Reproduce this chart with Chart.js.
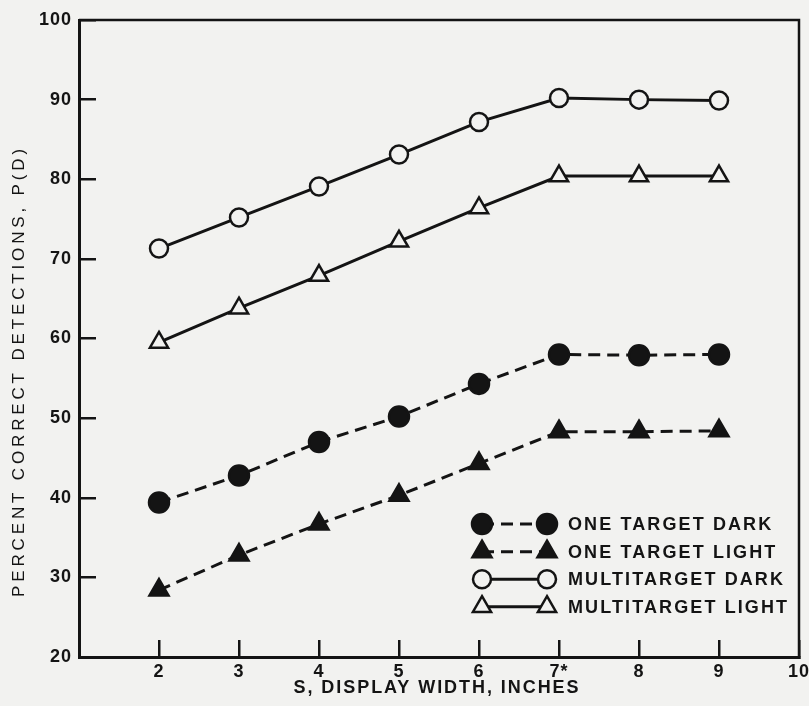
<!DOCTYPE html>
<html>
<head>
<meta charset="utf-8">
<title>Percent correct detections vs display width</title>
<script src="https://cdn.jsdelivr.net/npm/chart.js@4.4.1/dist/chart.umd.min.js"></script>
<style>
  html, body { margin: 0; padding: 0; background: #f2f2f0; }
  #wrap { width: 809px; height: 706px; }
</style>
</head>
<body>
<div id="wrap"><canvas id="chart" width="809" height="706"></canvas></div>
<script>
// values
const widths = [2, 3, 4, 5, 6, 7, 8, 9];
const oneTargetDark = [39.4, 42.8, 47.0, 50.2, 54.3, 58.0, 57.9, 58.0];
const oneTargetLight = [28.4, 32.8, 36.7, 40.3, 44.3, 48.3, 48.3, 48.4];
const multiTargetDark = [71.3, 75.2, 79.1, 83.1, 87.2, 90.2, 90.0, 89.9];
const multiTargetLight = [59.5, 63.8, 67.9, 72.2, 76.4, 80.4, 80.4, 80.4];

const seriesNames = ['ONE TARGET DARK', 'ONE TARGET LIGHT', 'MULTITARGET DARK', 'MULTITARGET LIGHT'];
const xTickLabels = ['', '2', '3', '4', '5', '6', '7*', '8', '9', '10'];
const yTickValues = [20, 30, 40, 50, 60, 70, 80, 90, 100];
const xTitle = 'S, DISPLAY WIDTH, INCHES';
const yTitle = 'PERCENT CORRECT DETECTIONS, P(D)';

const INK = '#141414';
const PAPER = '#f2f2f0';
const FONT = "'Liberation Sans', Arial, sans-serif";

function points(ys) {
  return widths.map((x, i) => ({ x, y: ys[i] }));
}

function series(label, ys, dashed, style, radius, filled) {
  return {
    label,
    data: points(ys),
    borderColor: INK,
    borderWidth: 3,
    borderDash: dashed ? [12, 7] : [],
    pointStyle: style,
    pointRadius: radius,
    pointHoverRadius: radius,
    pointBorderWidth: 2.5,
    pointBorderColor: INK,
    pointBackgroundColor: filled ? INK : PAPER,
    tension: 0,
    fill: false
  };
}

function fitSpacing(ctx, text, target) {
  ctx.letterSpacing = '0px';
  const w = ctx.measureText(text).width;
  return Math.max(0, (target - w) / (text.length - 1));
}

function spacedText(ctx, text, x, y, target) {
  const gap = fitSpacing(ctx, text, target);
  ctx.letterSpacing = gap.toFixed(2) + 'px';
  ctx.fillText(text, x, y);
}

const paperPlugin = {
  id: 'paper',
  beforeDraw(chart) {
    chart.ctx.letterSpacing = '1px';
  },
  beforeDatasetsDraw(chart) {
    const { ctx, chartArea: a } = chart;
    ctx.save();
    ctx.strokeStyle = INK;
    ctx.lineWidth = 2.5;
    ctx.beginPath();
    ctx.moveTo(a.left, a.top);
    ctx.lineTo(a.right, a.top);
    ctx.lineTo(a.right, a.bottom);
    ctx.stroke();
    ctx.restore();
  },
  afterDraw(chart) {
    const { ctx, chartArea: a } = chart;
    ctx.save();
    ctx.fillStyle = INK;
    ctx.textAlign = 'center';
    ctx.textBaseline = 'middle';

    // axis titles
    ctx.font = 'bold 18px ' + FONT;
    spacedText(ctx, xTitle, 437, 688, 285);
    ctx.save();
    ctx.translate(19, 371);
    ctx.rotate(-Math.PI / 2);
    ctx.font = '17px ' + FONT;
    spacedText(ctx, yTitle, 0, 0, 448);
    ctx.restore();

    // legend: line sample with a marker at each end
    const x0 = a.left + 403, x1 = a.left + 468, tx = a.left + 489;
    const rowY = [a.bottom - 133, a.bottom - 105.3, a.bottom - 77.7, a.bottom - 50.3];
    ctx.font = 'bold 18px ' + FONT;
    const gap = fitSpacing(ctx, seriesNames[3], 219);
    chart.data.datasets.forEach((ds, i) => {
      const y = rowY[i];
      ctx.strokeStyle = INK;
      ctx.lineWidth = ds.borderWidth;
      ctx.setLineDash(ds.borderDash);
      ctx.beginPath();
      ctx.moveTo(x0, y);
      ctx.lineTo(x1, y);
      ctx.stroke();
      ctx.setLineDash([]);
      ctx.fillStyle = ds.pointBackgroundColor;
      ctx.lineWidth = ds.pointBorderWidth;
      [x0, x1].forEach(px => {
        Chart.helpers.drawPoint(ctx, {
          pointStyle: ds.pointStyle,
          radius: ds.pointRadius,
          rotation: 0,
          borderWidth: ds.pointBorderWidth
        }, px, y);
      });
      ctx.fillStyle = INK;
      ctx.textAlign = 'left';
      ctx.letterSpacing = gap.toFixed(2) + 'px';
      ctx.fillText(ds.label, tx, y + 1);
    });
    ctx.restore();
  }
};

new Chart(document.getElementById('chart'), {
  type: 'line',
  data: {
    datasets: [
      series(seriesNames[0], oneTargetDark, true, 'circle', 10, true),
      series(seriesNames[1], oneTargetLight, true, 'triangle', 11, true),
      series(seriesNames[2], multiTargetDark, false, 'circle', 9, false),
      series(seriesNames[3], multiTargetLight, false, 'triangle', 10.5, false)
    ]
  },
  options: {
    responsive: false,
    animation: false,
    devicePixelRatio: 1,
    layout: { autoPadding: false, padding: { top: 20, right: 10, bottom: 0, left: 0 } },
    plugins: {
      legend: { display: false },
      tooltip: { enabled: false }
    },
    scales: {
      x: {
        type: 'linear',
        min: 1,
        max: 10,
        afterBuildTicks: s => { s.ticks = xTickLabels.map((_, i) => ({ value: i + 1 })); },
        afterFit: s => { s.height = 49; s.paddingLeft = 0; s.paddingRight = 0; },
        ticks: {
          color: INK,
          font: { family: FONT, size: 18, weight: 'bold' },
          padding: 21,
          maxRotation: 0,
          autoSkip: false,
          callback: v => xTickLabels[v - 1]
        },
        grid: { drawOnChartArea: false, drawTicks: true, tickLength: -17, color: INK, lineWidth: 2.5 },
        border: { display: true, color: INK, width: 3 }
      },
      y: {
        type: 'linear',
        min: 20,
        max: 100,
        afterBuildTicks: s => { s.ticks = yTickValues.map(v => ({ value: v })); },
        afterFit: s => { s.width = 79; s.paddingTop = 0; s.paddingBottom = 0; },
        ticks: {
          color: INK,
          font: { family: FONT, size: 18, weight: 'bold' },
          padding: 24,
          autoSkip: false
        },
        grid: { drawOnChartArea: false, drawTicks: true, tickLength: -17, color: INK, lineWidth: 2.5 },
        border: { display: true, color: INK, width: 3 }
      }
    }
  },
  plugins: [paperPlugin]
});
</script>
</body>
</html>
